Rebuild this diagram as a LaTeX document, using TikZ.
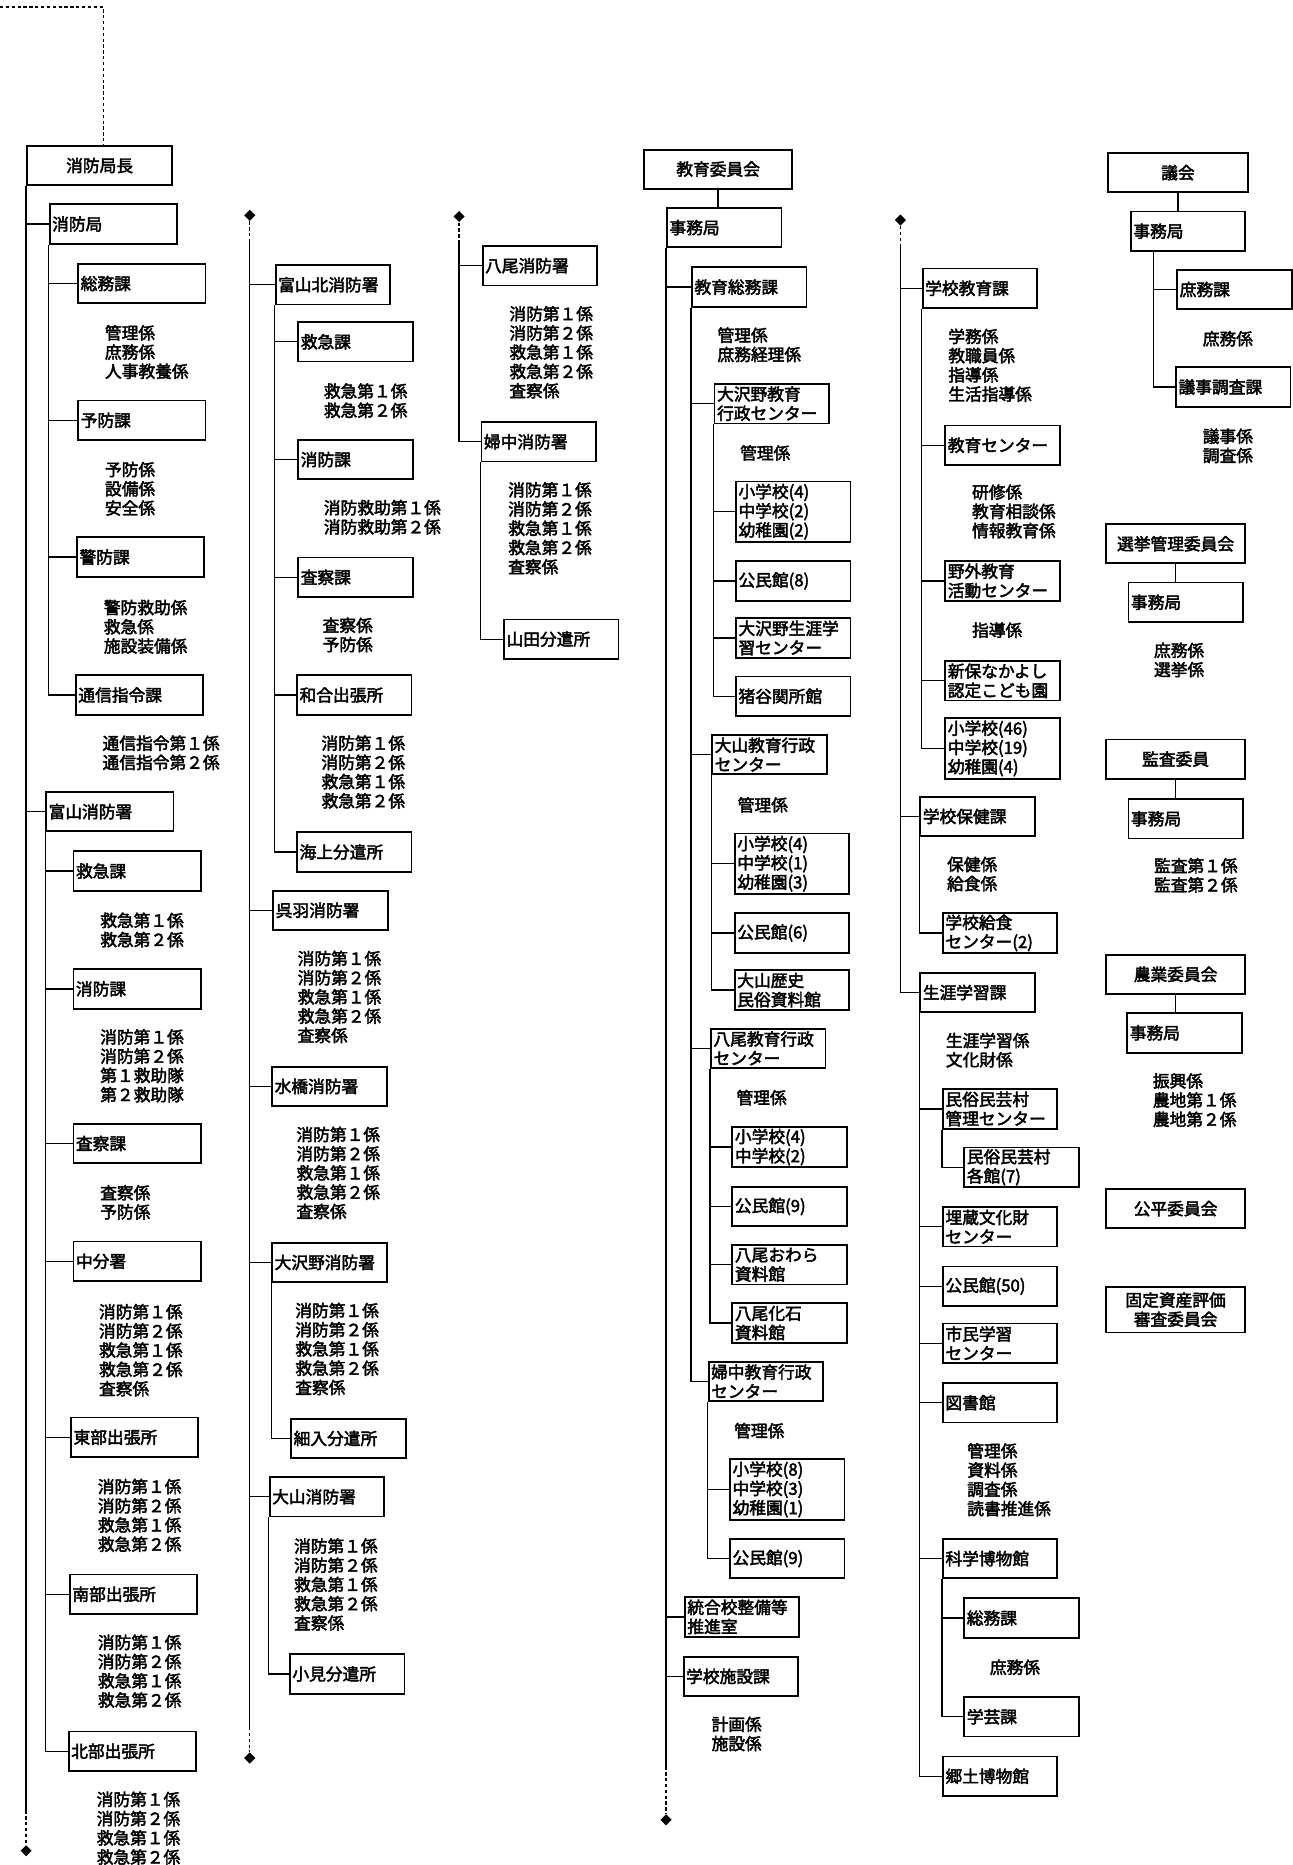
\documentclass[tikz,border=0pt]{standalone}
\usepackage{fontspec}
\setmainfont{Noto Sans CJK JP}[FakeBold=2.6]
\usepackage{tikz}
\usetikzlibrary{
  positioning,
  shapes.geometric
}

\begin{document}
\begin{tikzpicture}[
  x=0.025cm, y=-0.025cm,
  every node/.style={font=\fontsize{10pt}{11.5pt}\selectfont},
  unit/.style={
    draw, line width=1.1pt, anchor=north west,
    inner xsep=1.5pt, inner ysep=0pt,
    text width=2.3cm, minimum height=0.83cm, align=left
  },
  wunit/.style={unit, text width=2.57cm},
  tall/.style={minimum height=1.27cm},
  head/.style={
    draw, line width=1.1pt, anchor=north west,
    minimum width=3.1cm, minimum height=0.82cm, align=center
  },
  headr/.style={head, minimum width=2.93cm},
  staff/.style={anchor=north west, inner sep=0pt, align=left},
  link/.style={line width=0.8pt},
  gap/.style={line width=0.8pt, dash pattern=on 2pt off 1.5pt},
  cont/.style={diamond, fill, inner sep=0pt, minimum size=0.24cm}
]
 \useasboundingbox (0,0) rectangle (1087,1568);

 % Column 1 -- fire chief, headquarters and Toyama station
 \coordinate (topend) at (0,6);
 \node[head, minimum width=3.05cm] (chief) at (22,122) {消防局長};
 \node[wunit] (fbu) at (41,171) {消防局};
 \node[wunit] (fsomu) at (65,221) {総務課};
 \node[staff] at (88,273) {管理係\\庶務係\\人事教養係};
 \node[wunit] (fyobo) at (65,336) {予防課};
 \node[staff] at (88,388) {予防係\\設備係\\安全係};
 \node[wunit] (fkeibo) at (64,451) {警防課};
 \node[staff] at (87,504) {警防救助係\\救急係\\施設装備係};
 \node[wunit] (ftsushin) at (63,567) {通信指令課};
 \node[staff] at (86,618) {通信指令第１係\\通信指令第２係};
 \node[wunit] (toyama) at (38,665) {富山消防署};
 \node[wunit] (tkyukyu) at (61,715) {救急課};
 \node[staff] at (84,767) {救急第１係\\救急第２係};
 \node[wunit] (tshobo) at (61,814) {消防課};
 \node[staff] at (84,865) {消防第１係\\消防第２係\\第１救助隊\\第２救助隊};
 \node[wunit] (tsasatsu) at (61,944) {査察課};
 \node[staff] at (84,996) {査察係\\予防係};
 \node[wunit] (naka) at (61,1043) {中分署};
 \node[staff] at (83,1096) {消防第１係\\消防第２係\\救急第１係\\救急第２係\\査察係};
 \node[wunit] (tobu) at (59,1191) {東部出張所};
 \node[staff] at (82,1243) {消防第１係\\消防第２係\\救急第１係\\救急第２係};
 \node[wunit] (nanbu) at (58,1323) {南部出張所};
 \node[staff] at (82,1374) {消防第１係\\消防第２係\\救急第１係\\救急第２係};
 \node[wunit] (hokubu) at (57,1455) {北部出張所};
 \node[staff] at (81,1506) {消防第１係\\消防第２係\\救急第１係\\救急第２係};
 \coordinate (c1dash) at (22,1522);
 \node[cont] (c1end) at (22,1556) {};

 \draw[gap] (topend) -| ([xshift=0.075cm]chief.north);
 \draw[link] (chief.south west) -- (c1dash); \draw[gap] (c1dash) -- (c1end);
 \draw[link] (chief.south west |- fbu.west) -- (fbu.west);
 \draw[link] (chief.south west |- toyama.west) -- (toyama.west);
 \draw[link] (fbu.south west) |- (ftsushin.west);
 \draw[link] (fbu.south west |- fsomu.west) -- (fsomu.west);
 \draw[link] (fbu.south west |- fyobo.west) -- (fyobo.west);
 \draw[link] (fbu.south west |- fkeibo.west) -- (fkeibo.west);
 \draw[link] (toyama.south west) |- (hokubu.west);
 \draw[link] (toyama.south west |- tkyukyu.west) -- (tkyukyu.west);
 \draw[link] (toyama.south west |- tshobo.west) -- (tshobo.west);
 \draw[link] (toyama.south west |- tsasatsu.west) -- (tsasatsu.west);
 \draw[link] (toyama.south west |- naka.west) -- (naka.west);
 \draw[link] (toyama.south west |- tobu.west) -- (tobu.west);
 \draw[link] (toyama.south west |- nanbu.west) -- (nanbu.west);

 % Column 2 -- stations continued
 \node[cont] (c2top) at (210,181) {};
 \coordinate (c2dash) at (210,203);
 \node[unit] (kita) at (231,222) {富山北消防署};
 \node[unit] (kkyukyu) at (250,270) {救急課};
 \node[staff] at (272,322) {救急第１係\\救急第２係};
 \node[unit] (kshobo) at (250,369) {消防課};
 \node[staff] at (272,420) {消防救助第１係\\消防救助第２係};
 \node[unit] (ksasatsu) at (250,468) {査察課};
 \node[staff] at (271,519) {査察係\\予防係};
 \node[unit] (wago) at (249,567) {和合出張所};
 \node[staff] at (270,618) {消防第１係\\消防第２係\\救急第１係\\救急第２係};
 \node[unit] (kaijo) at (249,699) {海上分遣所};
 \node[unit] (kureha) at (229,748) {呉羽消防署};
 \node[staff] at (250,799) {消防第１係\\消防第２係\\救急第１係\\救急第２係\\査察係};
 \node[unit] (mizuhashi) at (228,896) {水橋消防署};
 \node[staff] at (249,947) {消防第１係\\消防第２係\\救急第１係\\救急第２係\\査察係};
 \node[unit] (osawano) at (228,1044) {大沢野消防署};
 \node[staff] at (248,1095) {消防第１係\\消防第２係\\救急第１係\\救急第２係\\査察係};
 \node[unit] (hosoiri) at (244,1192) {細入分遣所};
 \node[unit] (oyama) at (226,1241) {大山消防署};
 \node[staff] at (247,1293) {消防第１係\\消防第２係\\救急第１係\\救急第２係\\査察係};
 \node[unit] (omi) at (243,1390) {小見分遣所};
 \coordinate (c2dash2) at (210,1452);
 \node[cont] (c2end) at (210,1478) {};

 \draw[gap] (c2top) -- (c2dash); \draw[link] (c2dash) -- (c2dash2);
 \draw[gap] (c2dash2) -- (c2end);
 \draw[link] (c2dash |- kita.west) -- (kita.west);
 \draw[link] (c2dash |- kureha.west) -- (kureha.west);
 \draw[link] (c2dash |- mizuhashi.west) -- (mizuhashi.west);
 \draw[link] (c2dash |- osawano.west) -- (osawano.west);
 \draw[link] (c2dash |- oyama.west) -- (oyama.west);
 \draw[link] (kita.south west) |- (kaijo.west);
 \draw[link] (kita.south west |- kkyukyu.west) -- (kkyukyu.west);
 \draw[link] (kita.south west |- kshobo.west) -- (kshobo.west);
 \draw[link] (kita.south west |- ksasatsu.west) -- (ksasatsu.west);
 \draw[link] (kita.south west |- wago.west) -- (wago.west);
 \draw[link] (osawano.south west) |- (hosoiri.west);
 \draw[link] (oyama.south west) |- (omi.west);

 % Column 3 -- Yatsuo and Fuchu
 \node[cont] (c3top) at (386,182) {};
 \coordinate (c3dash) at (386,203);
 \node[unit] (yatsuo) at (405,206) {八尾消防署};
 \node[staff] at (428,257) {消防第１係\\消防第２係\\救急第１係\\救急第２係\\査察係};
 \node[unit] (fuchu) at (404,354) {婦中消防署};
 \node[staff] at (427,405) {消防第１係\\消防第２係\\救急第１係\\救急第２係\\査察係};
 \node[unit] (yamada) at (423,520) {山田分遣所};

 \draw[gap] (c3top) -- (c3dash); \draw[link] (c3dash) |- (fuchu.west);
 \draw[link] (c3dash |- yatsuo.west) -- (yatsuo.west);
 \draw[link] (fuchu.south west) |- (yamada.west);

 % Column 4 -- board of education, secretariat
 \node[head] (kyoi) at (541,125) {教育委員会};
 \node[unit] (kjimu) at (560,174) {事務局};
 \node[unit] (ksomu) at (581,224) {教育総務課};
 \node[staff] at (603,275) {管理係\\庶務経理係};
 \node[unit] (oswc) at (600,322) {大沢野教育\\行政センター};
 \node[staff] at (622,374) {管理係};
 \node[unit, tall] (oswsch) at (618,404) {小学校(4)\\中学校(2)\\幼稚園(2)};
 \node[unit] (oswkmk) at (618,471) {公民館(8)};
 \node[unit] (oswsg) at (618,519) {大沢野生涯学\\習センター};
 \node[unit] (inotani) at (618,568) {猪谷関所館};
 \node[unit] (oymc) at (598,617) {大山教育行政\\センター};
 \node[staff] at (620,670) {管理係};
 \node[unit, tall] (oymsch) at (617,700) {小学校(4)\\中学校(1)\\幼稚園(3)};
 \node[unit] (oymkmk) at (617,767) {公民館(6)};
 \node[unit] (oymrek) at (617,815) {大山歴史\\民俗資料館};
 \node[unit] (yatc) at (597,864) {八尾教育行政\\センター};
 \node[staff] at (619,916) {管理係};
 \node[unit] (yatsch) at (615,947) {小学校(4)\\中学校(2)};
 \node[unit] (yatkmk) at (615,997) {公民館(9)};
 \node[unit] (owara) at (615,1046) {八尾おわら\\資料館};
 \node[unit] (kaseki) at (615,1095) {八尾化石\\資料館};
 \node[unit] (fchc) at (595,1144) {婦中教育行政\\センター};
 \node[staff] at (617,1196) {管理係};
 \node[unit, tall] (fchsch) at (613,1226) {小学校(8)\\中学校(3)\\幼稚園(1)};
 \node[unit] (fchkmk) at (613,1293) {公民館(9)};
 \node[unit] (togo) at (575,1342) {統合校整備等\\推進室};
 \node[unit] (shisetsu) at (574,1392) {学校施設課};
 \node[staff] at (598,1443) {計画係\\施設係};
 \coordinate (c4dash) at (560,1485);
 \node[cont] (c4end) at (560,1530) {};

 \draw[link] (kyoi.south) -- (kyoi.south |- kjimu.north);
 \draw[link] (kjimu.south west) -- (c4dash); \draw[gap] (c4dash) -- (c4end);
 \draw[link] (kjimu.south west |- ksomu.west) -- (ksomu.west);
 \draw[link] (kjimu.south west |- togo.west) -- (togo.west);
 \draw[link] (kjimu.south west |- shisetsu.west) -- (shisetsu.west);
 \draw[link] (ksomu.south west) |- (fchc.west);
 \draw[link] (ksomu.south west |- oswc.west) -- (oswc.west);
 \draw[link] (ksomu.south west |- oymc.west) -- (oymc.west);
 \draw[link] (ksomu.south west |- yatc.west) -- (yatc.west);
 \draw[link] (oswc.south west) |- (inotani.west);
 \draw[link] (oswc.south west |- oswsch.west) -- (oswsch.west);
 \draw[link] (oswc.south west |- oswkmk.west) -- (oswkmk.west);
 \draw[link] (oswc.south west |- oswsg.west) -- (oswsg.west);
 \draw[link] (oymc.south west) |- (oymrek.west);
 \draw[link] (oymc.south west |- oymsch.west) -- (oymsch.west);
 \draw[link] (oymc.south west |- oymkmk.west) -- (oymkmk.west);
 \draw[link] (yatc.south west) |- (kaseki.west);
 \draw[link] (yatc.south west |- yatsch.west) -- (yatsch.west);
 \draw[link] (yatc.south west |- yatkmk.west) -- (yatkmk.west);
 \draw[link] (yatc.south west |- owara.west) -- (owara.west);
 \draw[link] (fchc.south west) |- (fchkmk.west);
 \draw[link] (fchc.south west |- fchsch.west) -- (fchsch.west);

 % Column 5 -- secretariat continued
 \node[cont] (c5top) at (757,185) {};
 \coordinate (c5dash) at (757,207);
 \node[unit] (gakko) at (775,225) {学校教育課};
 \node[staff] at (797,276) {学務係\\教職員係\\指導係\\生活指導係};
 \node[unit] (kyoikuc) at (794,357) {教育センター};
 \node[staff] at (817,407) {研修係\\教育相談係\\情報教育係};
 \node[unit] (yagai) at (794,471) {野外教育\\活動センター};
 \node[staff] at (817,523) {指導係};
 \node[unit] (shinbo) at (794,555) {新保なかよし\\認定こども園};
 \node[unit, tall] (gsch) at (794,603) {小学校(46)\\中学校(19)\\幼稚園(4)};
 \node[unit] (hoken) at (773,669) {学校保健課};
 \node[staff] at (796,720) {保健係\\給食係};
 \node[unit] (kyushoku) at (792,767) {学校給食\\センター(2)};
 \node[unit] (shogai) at (773,817) {生涯学習課};
 \node[staff] at (795,868) {生涯学習係\\文化財係};
 \node[unit] (minzoku) at (792,915) {民俗民芸村\\管理センター};
 \node[unit] (kakukan) at (810,964) {民俗民芸村\\各館(7)};
 \node[unit] (maizo) at (792,1014) {埋蔵文化財\\センター};
 \node[unit] (skmk) at (792,1064) {公民館(50)};
 \node[unit] (shimin) at (792,1112) {市民学習\\センター};
 \node[unit] (tosho) at (792,1162) {図書館};
 \node[staff] at (813,1213) {管理係\\資料係\\調査係\\読書推進係};
 \node[unit] (kagaku) at (792,1293) {科学博物館};
 \node[unit] (kgsomu) at (810,1343) {総務課};
 \node[staff] at (832,1395) {庶務係};
 \node[unit] (gakugei) at (810,1426) {学芸課};
 \node[unit] (kyodo) at (792,1476) {郷土博物館};

 \draw[gap] (c5top) -- (c5dash); \draw[link] (c5dash) |- (shogai.west);
 \draw[link] (c5dash |- gakko.west) -- (gakko.west);
 \draw[link] (c5dash |- hoken.west) -- (hoken.west);
 \draw[link] (gakko.south west) |- (gsch.west);
 \draw[link] (gakko.south west |- kyoikuc.west) -- (kyoikuc.west);
 \draw[link] (gakko.south west |- yagai.west) -- (yagai.west);
 \draw[link] (gakko.south west |- shinbo.west) -- (shinbo.west);
 \draw[link] (hoken.south west) |- (kyushoku.west);
 \draw[link] (shogai.south west) |- (kyodo.west);
 \draw[link] (shogai.south west |- minzoku.west) -- (minzoku.west);
 \draw[link] (shogai.south west |- maizo.west) -- (maizo.west);
 \draw[link] (shogai.south west |- skmk.west) -- (skmk.west);
 \draw[link] (shogai.south west |- shimin.west) -- (shimin.west);
 \draw[link] (shogai.south west |- tosho.west) -- (tosho.west);
 \draw[link] (shogai.south west |- kagaku.west) -- (kagaku.west);
 \draw[link] (minzoku.south west) |- (kakukan.west);
 \draw[link] (kagaku.south west) |- (gakugei.west);
 \draw[link] (kagaku.south west |- kgsomu.west) -- (kgsomu.west);

 % Column 6 -- assembly and committees
 \node[headr] (gikai) at (931,128) {議会};
 \node[unit] (gjimu) at (950,177) {事務局};
 \node[unit] (shomu) at (989,226) {庶務課};
 \node[staff] at (1011,278) {庶務係};
 \node[unit] (giji) at (988,308) {議事調査課};
 \node[staff] at (1011,360) {議事係\\調査係};
 \node[headr] (senkyo) at (929,440) {選挙管理委員会};
 \node[unit] (sjimu) at (948,489) {事務局};
 \node[staff] at (970,540) {庶務係\\選挙係};
 \node[headr] (kansa) at (929,621) {監査委員};
 \node[unit] (ksjimu) at (948,671) {事務局};
 \node[staff] at (970,721) {監査第１係\\監査第２係};
 \node[headr] (nogyo) at (929,802) {農業委員会};
 \node[unit] (njimu) at (947,851) {事務局};
 \node[staff] at (969,902) {振興係\\農地第１係\\農地第２係};
 \node[headr] (kohei) at (929,999) {公平委員会};
 \node[headr] (kotei) at (929,1081) {固定資産評価\\審査委員会};

 \draw[link] (gikai.south) -- (gikai.south |- gjimu.north);
 \draw[link] ([xshift=0.5cm]gjimu.south west) |- (giji.west);
 \draw[link] ([xshift=0.5cm]gjimu.south west |- shomu.west) -- (shomu.west);
 \draw[link] (senkyo.south) -- (senkyo.south |- sjimu.north);
 \draw[link] (kansa.south) -- (kansa.south |- ksjimu.north);
 \draw[link] (nogyo.south) -- (nogyo.south |- njimu.north);
\end{tikzpicture}
\end{document}
